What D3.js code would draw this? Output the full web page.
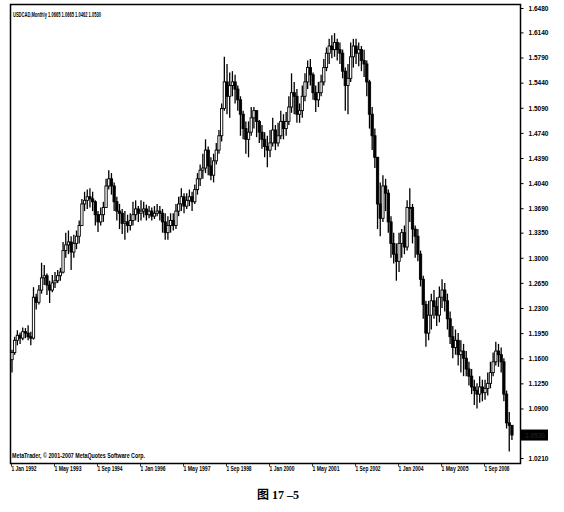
<!DOCTYPE html>
<html><head><meta charset="utf-8">
<script src="https://cdn.jsdelivr.net/npm/d3@7"></script>
<style>
body{margin:0;background:#fff}
text{font-family:"Liberation Sans",Arial,sans-serif;font-weight:bold;fill:#000}
</style>
</head><body>
<svg id="chart" width="564" height="512"></svg>
<script>
// ---- data (USDCAD monthly, Jan 1992 .. Jul 2007) ----
const firstOpen = 1.158;
const closes = [
1.168,1.185,1.192,1.188,1.197,1.195,1.190,1.188,1.245,1.238,1.255,1.272,
1.275,1.262,1.255,1.265,1.268,1.275,1.280,1.310,1.318,1.322,1.308,1.320,
1.330,1.345,1.375,1.380,1.385,1.382,1.378,1.360,1.350,1.360,1.370,1.400,
1.410,1.400,1.378,1.365,1.362,1.348,1.350,1.345,1.352,1.360,1.368,1.362,
1.365,1.368,1.360,1.365,1.358,1.362,1.365,1.362,1.350,1.335,1.345,1.352,
1.345,1.365,1.375,1.385,1.372,1.380,1.385,1.378,1.395,1.410,1.422,1.425,
1.450,1.428,1.415,1.435,1.450,1.470,1.508,1.545,1.525,1.540,1.545,1.535,
1.520,1.500,1.480,1.465,1.475,1.495,1.505,1.490,1.475,1.465,1.455,1.450,
1.460,1.478,1.460,1.470,1.490,1.480,1.490,1.510,1.530,1.525,1.500,1.505,
1.525,1.545,1.565,1.555,1.530,1.520,1.530,1.545,1.565,1.585,1.595,1.590,
1.600,1.590,1.585,1.560,1.540,1.550,1.580,1.595,1.585,1.590,1.575,1.570,
1.545,1.500,1.470,1.440,1.375,1.355,1.400,1.390,1.350,1.320,1.305,1.295,
1.320,1.335,1.315,1.370,1.370,1.340,1.330,1.305,1.270,1.235,1.195,1.220,
1.240,1.232,1.220,1.245,1.255,1.240,1.215,1.190,1.175,1.185,1.165,1.170,
1.160,1.145,1.135,1.120,1.115,1.110,1.120,1.112,1.118,1.125,1.140,1.155,
1.170,1.165,1.155,1.110,1.070,1.0665,1.0530];
const highs = [
1.172,1.190,1.199,1.196,1.203,1.202,1.206,1.197,1.259,1.250,1.262,1.293,
1.290,1.278,1.268,1.276,1.280,1.283,1.286,1.322,1.335,1.338,1.330,1.332,
1.338,1.352,1.382,1.392,1.395,1.397,1.392,1.380,1.365,1.370,1.378,1.410,
1.422,1.418,1.405,1.385,1.375,1.368,1.365,1.360,1.362,1.378,1.380,1.372,
1.380,1.378,1.374,1.372,1.370,1.372,1.375,1.372,1.368,1.362,1.358,1.362,
1.362,1.375,1.385,1.397,1.390,1.390,1.395,1.392,1.402,1.418,1.430,1.445,
1.465,1.455,1.440,1.445,1.460,1.478,1.515,1.580,1.570,1.558,1.560,1.555,
1.540,1.525,1.505,1.490,1.490,1.510,1.510,1.505,1.492,1.485,1.475,1.470,
1.478,1.495,1.485,1.488,1.505,1.500,1.503,1.525,1.557,1.545,1.535,1.515,
1.540,1.557,1.575,1.577,1.558,1.540,1.545,1.555,1.577,1.593,1.605,1.610,
1.613,1.605,1.600,1.590,1.565,1.570,1.600,1.605,1.605,1.600,1.595,1.590,
1.575,1.548,1.510,1.480,1.440,1.405,1.415,1.410,1.395,1.358,1.335,1.320,
1.335,1.340,1.345,1.380,1.397,1.375,1.345,1.340,1.310,1.275,1.240,1.240,
1.250,1.255,1.245,1.260,1.270,1.265,1.250,1.225,1.205,1.200,1.195,1.185,
1.180,1.170,1.155,1.145,1.130,1.125,1.135,1.130,1.130,1.140,1.155,1.168,
1.183,1.180,1.175,1.160,1.115,1.085,1.0665];
const lows = [
1.140,1.165,1.178,1.180,1.185,1.188,1.185,1.178,1.186,1.228,1.235,1.250,
1.262,1.248,1.237,1.252,1.258,1.265,1.268,1.278,1.300,1.305,1.283,1.300,
1.312,1.320,1.345,1.365,1.368,1.370,1.365,1.345,1.336,1.345,1.350,1.370,
1.395,1.388,1.365,1.352,1.340,1.333,1.325,1.335,1.338,1.345,1.352,1.350,
1.352,1.356,1.352,1.355,1.352,1.354,1.358,1.352,1.335,1.325,1.325,1.335,
1.338,1.340,1.358,1.365,1.362,1.368,1.372,1.365,1.375,1.388,1.400,1.410,
1.418,1.415,1.408,1.405,1.430,1.445,1.462,1.505,1.500,1.495,1.525,1.515,
1.505,1.470,1.465,1.445,1.440,1.470,1.480,1.468,1.460,1.452,1.440,1.426,
1.440,1.455,1.450,1.455,1.465,1.465,1.470,1.485,1.502,1.500,1.488,1.488,
1.495,1.518,1.535,1.540,1.520,1.503,1.510,1.525,1.540,1.560,1.570,1.578,
1.580,1.575,1.570,1.550,1.505,1.500,1.545,1.565,1.570,1.567,1.560,1.552,
1.525,1.480,1.450,1.425,1.340,1.330,1.350,1.365,1.335,1.300,1.292,1.268,
1.280,1.300,1.305,1.310,1.350,1.320,1.300,1.295,1.260,1.215,1.176,1.185,
1.200,1.215,1.205,1.210,1.230,1.225,1.200,1.180,1.160,1.165,1.150,1.140,
1.135,1.135,1.122,1.110,1.095,1.090,1.098,1.100,1.102,1.108,1.118,1.135,
1.150,1.148,1.140,1.100,1.062,1.030,1.0462];
const priceTicks = [1.6480,1.6140,1.5790,1.5440,1.5090,1.4740,1.4390,1.4040,1.3690,
  1.3350,1.3000,1.2650,1.2300,1.1950,1.1600,1.1250,1.0900,1.0210];
const timeTickIndex = [0,16,32,48,64,80,96,112,128,144,160,176];
const timeTickLabels = ["1 Jan 1992","1 May 1993","1 Sep 1994","1 Jan 1996","1 May 1997",
  "1 Sep 1998","1 Jan 2000","1 May 2001","1 Sep 2002","1 Jan 2004","1 May 2005","1 Sep 2006"];
const titleText = "USDCAD,Monthly 1.0665 1.0665 1.0462 1.0530";
const copyrightText = "MetaTrader, \u00A9 2001-2007 MetaQuotes Software Corp.";
const captionText = "图 17 –5";
const currentPrice = 1.0530;

// ---- build ----
const bars = closes.map((c, i) => ({
  i, o: i === 0 ? firstOpen : closes[i - 1], h: highs[i], l: lows[i], c
}));

const svg = d3.select("#chart");
const frame = {left: 10.5, right: 520.5, top: 4.5, bottom: 463.5};
const x = d3.scaleLinear().domain([0, 189]).range([12, 520]);
const y = d3.scaleLinear().domain([1.0210, 1.6480]).range([458, 8]);

// frame
svg.append("rect")
  .attr("x", frame.left).attr("y", frame.top)
  .attr("width", frame.right - frame.left).attr("height", frame.bottom - frame.top)
  .attr("fill", "#fff").attr("stroke", "#000").attr("stroke-width", 1.5);

// candles
const g = svg.append("g");
const bw = 2.3;
g.selectAll("line.wick").data(bars).join("line")
  .attr("class", "wick")
  .attr("x1", d => x(d.i)).attr("x2", d => x(d.i))
  .attr("y1", d => y(Math.max(d.h, d.o, d.c)))
  .attr("y2", d => y(Math.min(d.l, d.o, d.c)))
  .attr("stroke", "#000").attr("stroke-width", 1.3);
g.selectAll("rect.body").data(bars).join("rect")
  .attr("class", "body")
  .attr("x", d => x(d.i) - bw / 2)
  .attr("width", bw)
  .attr("y", d => y(Math.max(d.o, d.c)))
  .attr("height", d => Math.max(1, Math.abs(y(d.o) - y(d.c))))
  .attr("fill", d => d.c >= d.o ? "#fff" : "#000")
  .attr("stroke", "#000").attr("stroke-width", 0.9);

// right price axis
const yAxis = d3.axisRight(y).tickValues(priceTicks).tickSize(3)
  .tickFormat(d3.format(".4f"));
const ya = svg.append("g").attr("transform", `translate(${frame.right},0)`).call(yAxis);
ya.select(".domain").remove();
ya.selectAll(".tick line").attr("stroke", "#000");
ya.selectAll(".tick text").attr("x", 8).attr("font-size", 7)
  .attr("textLength", 20).attr("lengthAdjust", "spacingAndGlyphs")
  .style("font-family", "'Liberation Sans', Arial, sans-serif").style("font-weight", "bold");

// current price box
svg.append("rect").attr("x", 521).attr("y", y(currentPrice) - 5.5)
  .attr("width", 27).attr("height", 11).attr("fill", "#000");
svg.append("text").attr("x", 525).attr("y", y(currentPrice) + 2.5)
  .attr("font-size", 7).attr("textLength", 20).attr("lengthAdjust", "spacingAndGlyphs")
  .style("fill", "#1a1a1a").text(currentPrice.toFixed(4));

// bottom time axis labels
const xa = svg.append("g");
xa.selectAll("line").data(timeTickIndex).join("line")
  .attr("x1", d => x(d) - 0.5).attr("x2", d => x(d) - 0.5)
  .attr("y1", frame.bottom).attr("y2", frame.bottom + 3)
  .attr("stroke", "#000").attr("stroke-width", 0.8);
xa.selectAll("text").data(timeTickIndex).join("text")
  .attr("x", d => x(d) - 0.5).attr("y", 471)
  .attr("font-size", 7)
  .attr("textLength", (d, k) => timeTickLabels[k].includes("May") ? 27 : 25)
  .attr("lengthAdjust", "spacingAndGlyphs")
  .text((d, k) => timeTickLabels[k]);

// title & copyright
svg.append("text").attr("x", 13).attr("y", 17).attr("font-size", 7)
  .attr("textLength", 88).attr("lengthAdjust", "spacingAndGlyphs").text(titleText);
svg.append("text").attr("x", 12).attr("y", 458).attr("font-size", 7)
  .attr("textLength", 133).attr("lengthAdjust", "spacingAndGlyphs").text(copyrightText);

// caption
svg.append("text").attr("x", 278).attr("y", 499).attr("text-anchor", "middle")
  .attr("font-size", 12)
  .style("font-family", "'Liberation Serif','Noto Sans CJK SC',serif")
  .text(captionText);
</script>
</body></html>
